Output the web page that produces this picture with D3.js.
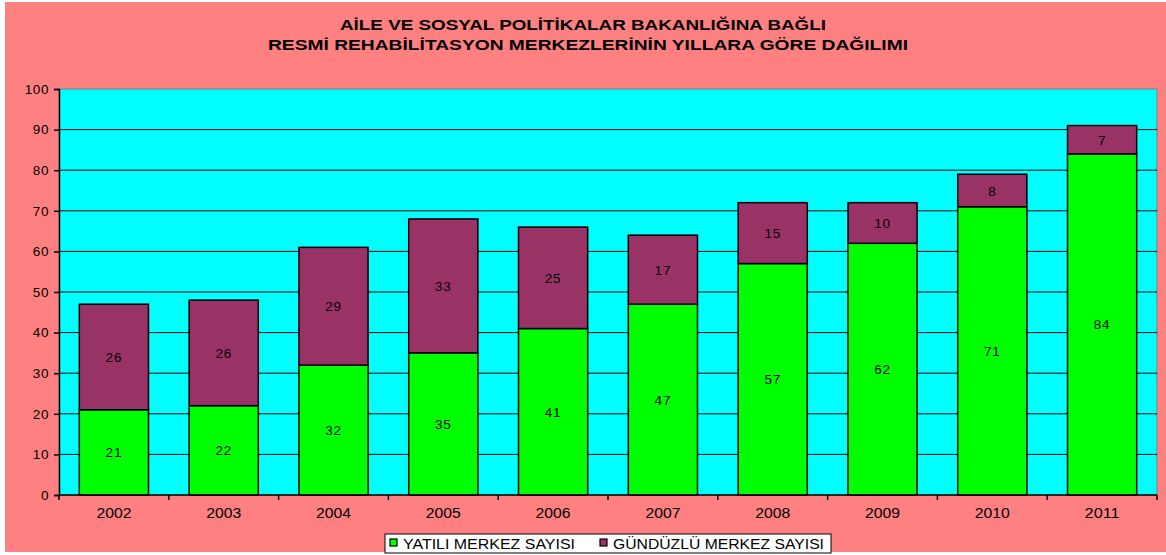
<!DOCTYPE html>
<html>
<head>
<meta charset="utf-8">
<script src="https://cdn.jsdelivr.net/npm/d3@7"></script>
<style>
  body { margin: 0; background: #fff; }
  text { font-family: "Liberation Sans", Arial, sans-serif; }
</style>
</head>
<body>
<div id="chart"></div>
<script>
var years = ['2002', '2003', '2004', '2005', '2006', '2007', '2008', '2009', '2010', '2011'];
var yatili = [21, 22, 32, 35, 41, 47, 57, 62, 71, 84];
var gunduzlu = [26, 26, 29, 33, 25, 17, 15, 10, 8, 7];
var yTicks = [0, 10, 20, 30, 40, 50, 60, 70, 80, 90, 100];
var seriesNames = ['YATILI MERKEZ SAYISI', 'GÜNDÜZLÜ MERKEZ SAYISI'];
var seriesColors = ['#00FF00', '#993366'];

var W = 1166, H = 555;
var plot = { left: 59, top: 89, right: 1157, bottom: 495 };

var svg = d3.select('#chart')
    .append('svg')
        .attr('width', W)
        .attr('height', H);

// background with the thin white margin on left / bottom
svg.append('rect')
    .attr('x', 5).attr('y', 2)
    .attr('width', W - 5).attr('height', H - 5)
    .style('fill', '#FF8080');

// title
var title = svg.append('g')
    .style('font-weight', 'bold')
    .style('font-size', '14px')
    .attr('text-anchor', 'middle');
title.append('text')
    .attr('x', 583).attr('y', 30)
    .attr('textLength', 486).attr('lengthAdjust', 'spacingAndGlyphs')
    .text('AİLE VE SOSYAL POLİTİKALAR BAKANLIĞINA BAĞLI');
title.append('text')
    .attr('x', 588).attr('y', 50)
    .attr('textLength', 640).attr('lengthAdjust', 'spacingAndGlyphs')
    .text('RESMİ REHABİLİTASYON MERKEZLERİNİN YILLARA GÖRE DAĞILIMI');

var x = d3.scaleBand()
    .domain(years)
    .range([plot.left, plot.right])
    .paddingInner(0.37)
    .paddingOuter(0.185);

var xOuter = d3.scaleBand()
    .domain(years)
    .range([plot.left, plot.right]);

var y = d3.scaleLinear()
    .domain([0, 100])
    .range([plot.bottom, plot.top]);

// plot area
svg.append('rect')
    .attr('x', plot.left).attr('y', plot.top)
    .attr('width', plot.right - plot.left)
    .attr('height', plot.bottom - plot.top)
    .style('fill', '#00FFFF')
    .style('stroke', '#808080')
    .style('stroke-width', 1);

// gridlines
svg.append('g')
    .selectAll('line')
    .data(yTicks.filter(function(d) { return d > 0 && d < 100; }))
    .enter().append('line')
        .attr('x1', plot.left).attr('x2', plot.right)
        .attr('y1', function(d) { return y(d); })
        .attr('y2', function(d) { return y(d); })
        .attr('stroke', '#000')
        .style('stroke-width', 1);

// stacked bars
var stackData = years.map(function(yr, i) {
    return { year: yr, a: yatili[i], b: gunduzlu[i] };
});

var bars = svg.append('g');
stackData.forEach(function(d) {
    bars.append('rect')
        .attr('x', x(d.year)).attr('y', y(d.a))
        .attr('width', x.bandwidth())
        .attr('height', y(0) - y(d.a))
        .style('fill', seriesColors[0])
        .attr('stroke', '#000').style('stroke-width', 1.5);
    bars.append('rect')
        .attr('x', x(d.year)).attr('y', y(d.a + d.b))
        .attr('width', x.bandwidth())
        .attr('height', y(d.a) - y(d.a + d.b))
        .style('fill', seriesColors[1])
        .attr('stroke', '#000').style('stroke-width', 1.5);

    bars.append('text')
        .attr('x', x(d.year) + x.bandwidth() / 2)
        .attr('y', y(d.a / 2) + 5)
        .attr('text-anchor', 'middle')
        .style('font-size', '13.5px')
        .style('letter-spacing', '0.8px')
        .text(d.a);
    bars.append('text')
        .attr('x', x(d.year) + x.bandwidth() / 2)
        .attr('y', y(d.a + d.b / 2) + 5)
        .attr('text-anchor', 'middle')
        .style('font-size', '13.5px')
        .style('letter-spacing', '0.8px')
        .text(d.b);
});

// y axis
var yAxis = svg.append('g')
    .attr('transform', 'translate(' + plot.left + ',0)')
    .call(d3.axisLeft(y).tickValues(yTicks).tickSize(5).tickPadding(5));
yAxis.selectAll('text').style('font-size', '13.5px').attr('fill', '#000')
    .style('letter-spacing', '0.6px')
    .style('font-family', '"Liberation Sans", Arial, sans-serif');
yAxis.selectAll('line, path').attr('stroke', '#000').style('stroke-width', 1.5);

// x axis with ticks at category boundaries
var xAxisG = svg.append('g')
    .attr('transform', 'translate(0,' + plot.bottom + ')');
xAxisG.append('line')
    .attr('x1', plot.left).attr('x2', plot.right)
    .attr('stroke', '#000').style('stroke-width', 1.5);
xAxisG.selectAll('line.tick')
    .data(years.concat(['end']))
    .enter().append('line')
        .attr('class', 'tick')
        .attr('x1', function(d) { return d === 'end' ? plot.right : xOuter(d); })
        .attr('x2', function(d) { return d === 'end' ? plot.right : xOuter(d); })
        .attr('y1', 0).attr('y2', 5)
        .attr('stroke', '#000').style('stroke-width', 1.5);
xAxisG.selectAll('text')
    .data(years)
    .enter().append('text')
        .attr('x', function(d) { return xOuter(d) + xOuter.bandwidth() / 2; })
        .attr('y', 23)
        .attr('text-anchor', 'middle')
        .style('font-size', '14px')
        .attr('textLength', 35).attr('lengthAdjust', 'spacingAndGlyphs')
        .text(function(d) { return d; });

// legend
var legend = svg.append('g').attr('transform', 'translate(385,534)');
legend.append('rect')
    .attr('width', 446).attr('height', 19)
    .style('fill', '#fff')
    .attr('stroke', '#000').style('stroke-width', 1);
var legendX = [5, 215];
var legendLen = [172, 211];
seriesNames.forEach(function(name, i) {
    legend.append('rect')
        .attr('x', legendX[i]).attr('y', 5)
        .attr('width', 7).attr('height', 7)
        .style('fill', seriesColors[i])
        .attr('stroke', '#000').style('stroke-width', 1.2);
    legend.append('text')
        .attr('x', legendX[i] + 13).attr('y', 14.5)
        .style('font-size', '14px')
        .attr('textLength', legendLen[i]).attr('lengthAdjust', 'spacingAndGlyphs')
        .text(name);
});
</script>
</body>
</html>
